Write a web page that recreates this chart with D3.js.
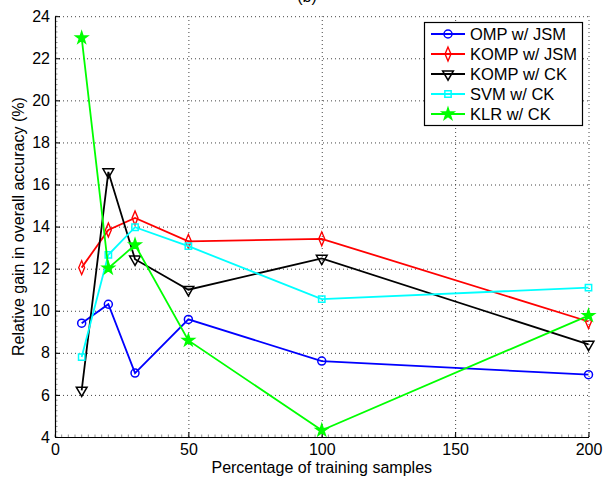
<!DOCTYPE html>
<html>
  <head>
    <script src="https://d3js.org/d3.v7.min.js"></script>
    <style>
      body { margin: 0; background: white; }
      text { font-family: "Liberation Sans", Arial, sans-serif; }
    </style>
  </head>
  <body>
    <svg id="chart" width="603" height="479"></svg>
    <script>
      // Data
      var trainPct = [10, 20, 30, 50, 100, 200];
      var seriesNames = ["OMP w/ JSM", "KOMP w/ JSM", "KOMP w/ CK", "SVM w/ CK", "KLR w/ CK"];
      var ompJsm  = [9.41, 10.31, 7.04, 9.59, 7.61, 6.96];
      var kompJsm = [12.05, 13.84, 14.41, 13.30, 13.42, 9.49];
      var kompCk  = [6.22, 16.60, 12.45, 11.00, 12.49, 8.40];
      var svmCk   = [7.80, 12.66, 13.97, 13.07, 10.55, 11.10];
      var klrCk   = [22.97, 12.02, 13.13, 8.59, 4.32, 9.77];
      var xTicks = [0, 50, 100, 150, 200];
      var yTicks = [4, 6, 8, 10, 12, 14, 16, 18, 20, 22, 24];

      var colors = ["#0000ff", "#ff0000", "#000000", "#00ffff", "#00ff00"];
      var shapes = ["circle", "diamond", "triangle", "square", "star"];
      var allValues = [ompJsm, kompJsm, kompCk, svmCk, klrCk];

      // plot area edges (note: "top" is a reserved window global, so use plot* names)
      var plotLeft = 55, plotRight = 588.5, plotTop = 16.2, plotBottom = 437;
      var svg = d3.select("#chart");

      var x = d3.scaleLinear().domain([0, 200]).range([plotLeft, plotRight]);
      var y = d3.scaleLinear().domain([4, 24]).range([plotBottom, plotTop]);

      // dotted grid
      var grid = svg.append("g");
      grid.append("g")
        .attr("transform", "translate(0," + plotBottom + ")")
        .call(d3.axisBottom(x).tickValues(xTicks.slice(1)).tickSize(-(plotBottom - plotTop)).tickFormat(""))
        .call(function(g) { g.select(".domain").remove(); });
      grid.append("g")
        .attr("transform", "translate(" + plotLeft + ",0)")
        .call(d3.axisLeft(y).tickValues(yTicks.slice(1)).tickSize(-(plotRight - plotLeft)).tickFormat(""))
        .call(function(g) { g.select(".domain").remove(); });
      grid.selectAll("line")
        .attr("stroke", "#444")
        .attr("stroke-width", 1)
        .attr("stroke-dasharray", "1,3");

      // minor ticks
      var minor = svg.append("g").attr("stroke", "#777").attr("stroke-width", 0.8);
      minor.selectAll(".mx").data(d3.range(0, 200.01, 2.5)).enter().append("line")
        .attr("x1", function(d) { return x(d); }).attr("x2", function(d) { return x(d); })
        .attr("y1", plotBottom).attr("y2", plotBottom - 2.5);
      minor.selectAll(".my").data(d3.range(4, 24.01, 0.25)).enter().append("line")
        .attr("y1", function(d) { return y(d); }).attr("y2", function(d) { return y(d); })
        .attr("x1", plotLeft).attr("x2", plotLeft + 2.5);

      // axes
      var xAxis = svg.append("g")
        .attr("transform", "translate(0," + plotBottom + ")")
        .call(d3.axisBottom(x).tickValues(xTicks).tickSize(-5).tickSizeOuter(0).tickPadding(6));
      var yAxis = svg.append("g")
        .attr("transform", "translate(" + plotLeft + ",0)")
        .call(d3.axisLeft(y).tickValues(yTicks).tickSize(-5).tickSizeOuter(0).tickPadding(5));
      [xAxis, yAxis].forEach(function(a) {
        a.select(".domain").attr("stroke", "#000").attr("stroke-width", 1.2);
        a.selectAll(".tick line").attr("stroke", "#000");
        a.selectAll(".tick text").attr("fill", "#000")
          .style("font-size", "16px").style("font-family", "'Liberation Sans', Arial, sans-serif");
      });
      xAxis.selectAll(".tick text").attr("dy", "0.75em");

      // labels
      svg.append("text").attr("x", (plotLeft + plotRight) / 2).attr("y", 473)
        .attr("text-anchor", "middle").style("font-size", "16px").text("Percentage of training samples");
      svg.append("text").attr("transform", "translate(24," + ((plotTop + plotBottom) / 2) + ") rotate(-90)")
        .attr("text-anchor", "middle").style("font-size", "16px").text("Relative gain in overall accuracy (%)");
      svg.append("text").attr("x", 307).attr("y", 2)
        .attr("text-anchor", "middle").style("font-size", "16px").text("(b)");

      function symbolFor(shape) {
        if (shape === "circle") return d3.symbol().type(d3.symbolCircle).size(50);
        if (shape === "diamond") return d3.symbol().type(d3.symbolDiamond).size(42);
        if (shape === "square") return d3.symbol().type(d3.symbolSquare).size(40);
        if (shape === "star") return d3.symbol().type(d3.symbolStar).size(42);
        return d3.symbol().type(d3.symbolTriangle).size(50);
      }
      function markerTransform(shape, px, py) {
        var rot = shape === "triangle" ? " rotate(180)" : "";
        var sc = shape === "diamond" ? " scale(0.85,1.15)" : "";
        return "translate(" + px + "," + py + ")" + rot + sc;
      }

      var line = d3.line().x(function(d) { return x(d[0]); }).y(function(d) { return y(d[1]); });

      allValues.forEach(function(vals, i) {
        var pts = trainPct.map(function(t, j) { return [t, vals[j]]; });
        var g = svg.append("g");
        g.append("path").datum(pts).attr("d", line)
          .attr("fill", "none").attr("stroke", colors[i]).attr("stroke-width", 1.8);
        g.selectAll("path.m").data(pts).enter().append("path")
          .attr("class", "m")
          .attr("d", symbolFor(shapes[i]))
          .attr("transform", function(d) { return markerTransform(shapes[i], x(d[0]), y(d[1])); })
          .attr("fill", shapes[i] === "star" ? colors[i] : "none")
          .attr("stroke", colors[i]).attr("stroke-width", 1.5);
      });

      // legend
      var lg = svg.append("g");
      lg.append("rect").attr("x", 424.5).attr("y", 22.5).attr("width", 158).attr("height", 103)
        .attr("fill", "white").attr("stroke", "#000").attr("stroke-width", 1.2);
      seriesNames.forEach(function(name, i) {
        var ly = 34 + i * 20;
        lg.append("line").attr("x1", 431).attr("x2", 465).attr("y1", ly).attr("y2", ly)
          .attr("stroke", colors[i]).attr("stroke-width", 1.8);
        lg.append("path").attr("d", symbolFor(shapes[i]))
          .attr("transform", markerTransform(shapes[i], 448, ly))
          .attr("fill", shapes[i] === "star" ? colors[i] : "none")
          .attr("stroke", colors[i]).attr("stroke-width", 1.5);
        lg.append("text").attr("x", 470).attr("y", ly).attr("dy", "0.36em")
          .style("font-size", "16.5px").text(name);
      });
    </script>
  </body>
</html>
